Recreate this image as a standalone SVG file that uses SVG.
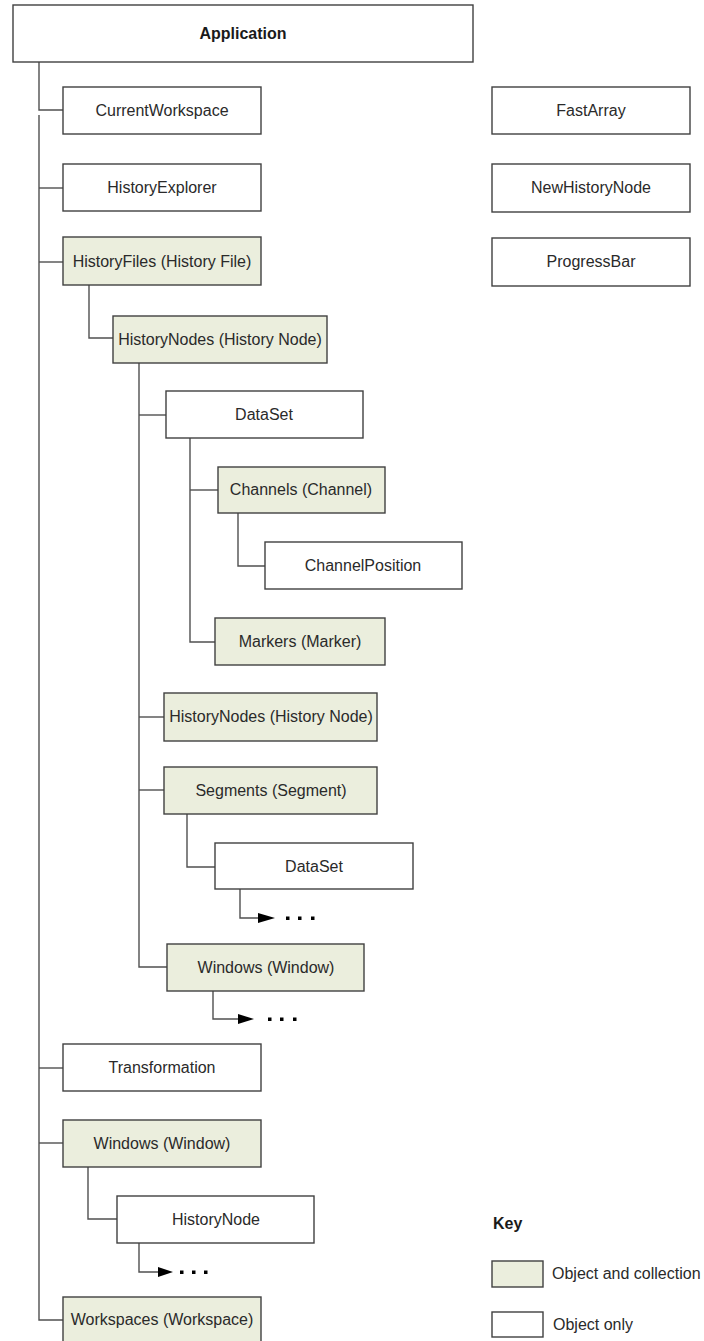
<svg xmlns="http://www.w3.org/2000/svg" width="704" height="1341" viewBox="0 0 704 1341">
<style>
.b{fill:#ffffff;stroke:#404040;stroke-width:1.4}
.g{fill:#ebeedd;stroke:#404040;stroke-width:1.4}
.t{font-family:"Liberation Sans",Arial,sans-serif;font-size:16px;fill:#2a2a2a;text-anchor:middle}
.tb{font-family:"Liberation Sans",Arial,sans-serif;font-size:16px;font-weight:bold;fill:#1a1a1a;text-anchor:middle}
.l{font-family:"Liberation Sans",Arial,sans-serif;font-size:16px;fill:#2a2a2a}
.c{fill:none;stroke:#505050;stroke-width:1.4}
.ah{fill:#000000}
.d{fill:#000000}
</style>
<rect width="704" height="1341" fill="#ffffff"/>
<g id="connectors">
<path class="c" d="M39,62 V110 H63"/>
<path class="c" d="M39,115 V1320 H63"/>
<path class="c" d="M39,188 H63"/>
<path class="c" d="M39,262 H63"/>
<path class="c" d="M39,1068 H63"/>
<path class="c" d="M39,1143 H63"/>
<path class="c" d="M89,285 V338 H113"/>
<path class="c" d="M139,363 V967 H167"/>
<path class="c" d="M139,415 H166"/>
<path class="c" d="M139,717 H164"/>
<path class="c" d="M139,790 H164"/>
<path class="c" d="M190,438 V642 H215"/>
<path class="c" d="M190,490 H218"/>
<path class="c" d="M238,513 V566 H265"/>
<path class="c" d="M187,814 V867 H215"/>
<path class="c" d="M88,1167 V1219 H117"/>
<path class="c" d="M240,889 V918 H259"/>
<polygon class="ah" points="258,913 275,918 258,923"/>
<rect class="d" x="286" y="916.5" width="3.5" height="3.5"/>
<rect class="d" x="298" y="916.5" width="3.5" height="3.5"/>
<rect class="d" x="311" y="916.5" width="3.5" height="3.5"/>
<path class="c" d="M213,991 V1019 H239"/>
<polygon class="ah" points="238,1014 254,1019 238,1024"/>
<rect class="d" x="268" y="1017.5" width="3.5" height="3.5"/>
<rect class="d" x="280" y="1017.5" width="3.5" height="3.5"/>
<rect class="d" x="293" y="1017.5" width="3.5" height="3.5"/>
<path class="c" d="M139,1243 V1272 H159"/>
<polygon class="ah" points="158,1267 173,1272 158,1277"/>
<rect class="d" x="180" y="1270.5" width="3.5" height="3.5"/>
<rect class="d" x="192" y="1270.5" width="3.5" height="3.5"/>
<rect class="d" x="204" y="1270.5" width="3.5" height="3.5"/>
</g>
<g id="application"><rect class="b" x="13" y="5" width="460" height="57"/><text class="tb" x="243" y="39">Application</text></g>
<g id="currentworkspace"><rect class="b" x="63" y="87" width="198" height="47"/><text class="t" x="162" y="116">CurrentWorkspace</text></g>
<g id="historyexplorer"><rect class="b" x="63" y="164" width="198" height="47"/><text class="t" x="162" y="193">HistoryExplorer</text></g>
<g id="historyfiles"><rect class="g" x="63" y="237" width="198" height="48"/><text class="t" x="162" y="267">HistoryFiles (History File)</text></g>
<g id="historynodes1"><rect class="g" x="113" y="316" width="214" height="47"/><text class="t" x="220" y="345">HistoryNodes (History Node)</text></g>
<g id="dataset1"><rect class="b" x="166" y="391" width="197" height="47"/><text class="t" x="264" y="420">DataSet</text></g>
<g id="channels"><rect class="g" x="218" y="467" width="167" height="46"/><text class="t" x="301" y="495">Channels (Channel)</text></g>
<g id="channelposition"><rect class="b" x="265" y="542" width="197" height="47"/><text class="t" x="363" y="571">ChannelPosition</text></g>
<g id="markers"><rect class="g" x="215" y="618" width="170" height="47"/><text class="t" x="300" y="647">Markers (Marker)</text></g>
<g id="historynodes2"><rect class="g" x="164" y="693" width="213" height="48"/><text class="t" x="271" y="722">HistoryNodes (History Node)</text></g>
<g id="segments"><rect class="g" x="164" y="767" width="213" height="47"/><text class="t" x="271" y="796">Segments (Segment)</text></g>
<g id="dataset2"><rect class="b" x="215" y="843" width="198" height="46"/><text class="t" x="314" y="872">DataSet</text></g>
<g id="windows1"><rect class="g" x="167" y="944" width="197" height="47"/><text class="t" x="266" y="973">Windows (Window)</text></g>
<g id="transformation"><rect class="b" x="63" y="1044" width="198" height="47"/><text class="t" x="162" y="1073">Transformation</text></g>
<g id="windows2"><rect class="g" x="63" y="1120" width="198" height="47"/><text class="t" x="162" y="1149">Windows (Window)</text></g>
<g id="historynode"><rect class="b" x="117" y="1196" width="197" height="47"/><text class="t" x="216" y="1225">HistoryNode</text></g>
<g id="workspaces"><rect class="g" x="63" y="1297" width="198" height="50"/><text class="t" x="162" y="1325">Workspaces (Workspace)</text></g>
<g id="fastarray"><rect class="b" x="492" y="87" width="198" height="47"/><text class="t" x="591" y="116">FastArray</text></g>
<g id="newhistorynode"><rect class="b" x="492" y="164" width="198" height="48"/><text class="t" x="591" y="193">NewHistoryNode</text></g>
<g id="progressbar"><rect class="b" x="492" y="238" width="198" height="48"/><text class="t" x="591" y="267">ProgressBar</text></g>
<g id="key">
<text class="tb" x="493" y="1229" style="text-anchor:start">Key</text>
<rect class="g" x="492" y="1261" width="51" height="26"/>
<text class="l" x="552" y="1279">Object and collection</text>
<rect class="b" x="492" y="1312" width="51" height="25"/>
<text class="l" x="553" y="1330">Object only</text>
</g>
</svg>
